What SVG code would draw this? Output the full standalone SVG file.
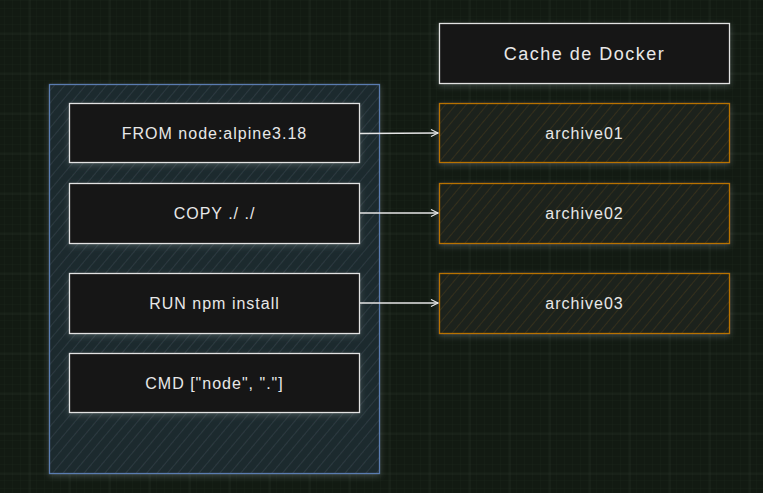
<svg xmlns="http://www.w3.org/2000/svg" width="763" height="493" viewBox="0 0 763 493">
  <defs>
    <pattern id="minor" x="-3" y="1" width="8" height="8" patternUnits="userSpaceOnUse">
      <path d="M8 0V8M0 8H8" stroke="#182218" stroke-width="1" fill="none"/>
    </pattern>
    <pattern id="major" x="29.5" y="33.5" width="40" height="40" patternUnits="userSpaceOnUse">
      <path d="M0 0V40M0 0H40" stroke="#2b352b" stroke-width="1" fill="none"/>
    </pattern>
    <pattern id="hatchBlue" width="8" height="8" patternUnits="userSpaceOnUse" patternTransform="rotate(40)">
      <rect width="8" height="8" fill="#1e2a2e"/>
      <path d="M0 0V8" stroke="#2c3a40" stroke-width="2"/>
    </pattern>
    <pattern id="hatchOrange" width="8" height="8" patternUnits="userSpaceOnUse" patternTransform="rotate(40)">
      <rect width="8" height="8" fill="#1e221c"/>
      <path d="M0 0V8" stroke="#33301f" stroke-width="2"/>
    </pattern>
    <filter id="shadow" x="-10%" y="-20%" width="120%" height="140%">
      <feDropShadow dx="0" dy="2" stdDeviation="3" flood-color="#8a9a9a" flood-opacity="0.35"/>
    </filter>
    <marker id="arrow" markerWidth="10" markerHeight="10" refX="8" refY="4" orient="auto" markerUnits="userSpaceOnUse">
      <path d="M1 0.5L8 4L1 7.5" fill="none" stroke="#e6e6e6" stroke-width="1.2"/>
    </marker>
  </defs>
  <style>
    .lbl { font-family: "Liberation Sans", Arial, sans-serif; font-size: 16px; letter-spacing: 1px; fill: #e8e8e8; text-anchor: middle; dominant-baseline: central; }
    .step { fill: #121212; stroke: #e2e2e2; stroke-width: 1.3; }
    .cache { fill: url(#hatchOrange); stroke: #b87200; stroke-width: 1.3; }
    .conn { stroke: #e6e6e6; stroke-width: 1.3; fill: none; marker-end: url(#arrow); }
  </style>

  <rect width="763" height="493" fill="#121a12"/>
  <rect width="763" height="493" fill="url(#minor)"/>
  <rect width="763" height="493" fill="url(#major)"/>

  <g id="dockerfile">
    <rect x="49.5" y="84.5" width="330" height="389" fill="url(#hatchBlue)" stroke="#5a7bb0" stroke-width="1.3" filter="url(#shadow)"/>
  </g>

  <g id="from">
    <rect class="step" x="69.5" y="103.5" width="290" height="59" filter="url(#shadow)"/>
    <text class="lbl" x="214.5" y="133">FROM node:alpine3.18</text>
  </g>
  <g id="copy">
    <rect class="step" x="69.5" y="183.5" width="290" height="60" filter="url(#shadow)"/>
    <text class="lbl" x="214.5" y="213">COPY ./ ./</text>
  </g>
  <g id="run">
    <rect class="step" x="69.5" y="273.5" width="290" height="60" filter="url(#shadow)"/>
    <text class="lbl" x="214.5" y="303">RUN npm install</text>
  </g>
  <g id="cmd">
    <rect class="step" x="69.5" y="353.5" width="290" height="59" filter="url(#shadow)"/>
    <text class="lbl" x="214.5" y="383">CMD ["node", "."]</text>
  </g>

  <g id="cache-title">
    <rect class="step" x="439.5" y="23.5" width="290" height="60" filter="url(#shadow)"/>
    <text class="lbl" x="584.5" y="53.5" style="font-size:18px;letter-spacing:1.5px">Cache de Docker</text>
  </g>
  <g id="archive01">
    <rect class="cache" x="439.5" y="103.5" width="290" height="59" filter="url(#shadow)"/>
    <text class="lbl" x="584.5" y="133">archive01</text>
  </g>
  <g id="archive02">
    <rect class="cache" x="439.5" y="183.5" width="290" height="60" filter="url(#shadow)"/>
    <text class="lbl" x="584.5" y="213">archive02</text>
  </g>
  <g id="archive03">
    <rect class="cache" x="439.5" y="273.5" width="290" height="60" filter="url(#shadow)"/>
    <text class="lbl" x="584.5" y="303">archive03</text>
  </g>

  <g id="connectors">
    <path class="conn" d="M360 133.5L438 133"/>
    <path class="conn" d="M360 213L438 213"/>
    <path class="conn" d="M360 303L438 303"/>
  </g>
</svg>
